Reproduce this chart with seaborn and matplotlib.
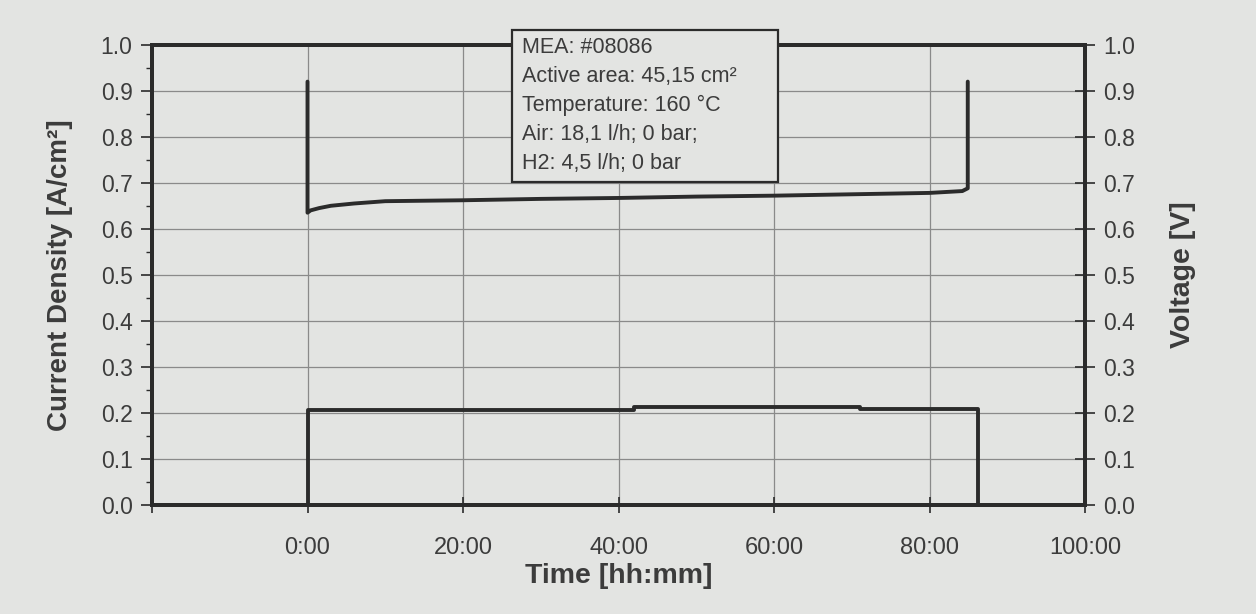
import matplotlib
matplotlib.use("Agg")
import matplotlib.pyplot as plt
import seaborn as sns
import numpy as np
import pandas as pd
from matplotlib.ticker import MultipleLocator, FixedLocator
from matplotlib.patches import Rectangle

# ---- data ----
cur_time = [-20, 0, 42, 71, 86.2, 100]          # hours
cur_density = [0.0, 0.205, 0.212, 0.208, 0.0, 0.0]  # A/cm2 (steps-post)

volt_time = [0, 0, 0.4, 1.5, 3, 6, 10, 20, 30, 40, 50, 60, 70, 80, 84.2, 84.9, 84.9]
voltage = [0.92, 0.635, 0.64, 0.645, 0.65, 0.655, 0.66, 0.662, 0.665, 0.667, 0.67, 0.672, 0.675, 0.678, 0.682, 0.688, 0.92]

x_ticks = [0, 20, 40, 60, 80, 100]
x_labels = ["0:00", "20:00", "40:00", "60:00", "80:00", "100:00"]
y_ticks = [0.0, 0.1, 0.2, 0.3, 0.4, 0.5, 0.6, 0.7, 0.8, 0.9, 1.0]

info_text = ["MEA: #08086", "Active area: 45,15 cm\u00b2", "Temperature: 160 \u00b0C",
             "Air: 18,1 l/h; 0 bar;", "H2: 4,5 l/h; 0 bar"]

# ---- style ----
sns.set_theme(style="white")
plt.rcParams['font.family'] = ['Liberation Sans', 'DejaVu Sans']
bg = "#e3e4e2"
ink = "#2b2b2b"
txt = "#3c3c3c"

fig = plt.figure(figsize=(12.56, 6.14), dpi=100, facecolor=bg)
ax = fig.add_axes([0.121, 0.178, 0.743, 0.749])
ax.set_facecolor(bg)

cur_df = pd.DataFrame({"t": cur_time, "j": cur_density})
volt_df = pd.DataFrame({"t": volt_time, "v": voltage})

ax.set_xlim(-20, 100)
ax.set_ylim(0, 1.0)

# grid
ax.set_yticks(y_ticks)
ax.set_xticks(x_ticks)
ax.grid(True, color="#8a8a8a", linewidth=0.9)
ax.set_axisbelow(True)

sns.lineplot(data=cur_df, x="t", y="j", ax=ax, color=ink, linewidth=2.8,
             drawstyle="steps-post", sort=False, estimator=None, zorder=3)

ax2 = ax.twinx()
ax2.set_ylim(0, 1.0)
sns.lineplot(data=volt_df, x="t", y="v", ax=ax2, color=ink, linewidth=2.8,
             sort=False, estimator=None, zorder=3)

# ticks & labels
ax.set_yticklabels([f"{v:.1f}" for v in y_ticks], color=txt, fontsize=16.5)
ax.yaxis.set_minor_locator(MultipleLocator(0.05))
ax.tick_params(axis="y", which="major", direction="out", length=8, width=1.2, color=ink, pad=6, left=True)
ax.tick_params(axis="y", which="minor", direction="out", length=4, width=1.0, color=ink, left=True)
ax.set_xticklabels(x_labels, color=txt, fontsize=17)
ax.xaxis.set_minor_locator(FixedLocator([-20]))
ax.tick_params(axis="x", which="both", direction="inout", length=12, width=1.2, color=ink, pad=17, bottom=True)

ax2.set_yticks(y_ticks)
ax2.set_yticklabels([f"{v:.1f}" for v in y_ticks], color=txt, fontsize=16.5)
ax2.tick_params(axis="y", direction="inout", length=14, width=1.2, color=ink, pad=6, right=True)

ax.set_xlabel("Time [hh:mm]", fontsize=20.5, fontweight="bold", color=txt, labelpad=3)
ax.set_ylabel("Current Density [A/cm\u00b2]", fontsize=20, fontweight="bold", color=txt, labelpad=20)
ax2.set_ylabel("Voltage [V]", fontsize=20.5, fontweight="bold", color=txt, labelpad=25)

for a in (ax, ax2):
    for s in a.spines.values():
        s.set_visible(True)
        s.set_color(ink)
        s.set_linewidth(2.8)

# info box
fig.add_artist(Rectangle((512 / 1256, 1 - 182 / 614), 266 / 1256, 152 / 614,
                         transform=fig.transFigure, facecolor=bg, edgecolor=ink,
                         linewidth=1.6, zorder=9))
fig.text(522 / 1256, 1 - 37 / 614, "\n".join(info_text), fontsize=15.5, color=txt,
         va="top", ha="left", linespacing=1.5, zorder=10)

fig.savefig("out.png", dpi=100, facecolor=bg)
